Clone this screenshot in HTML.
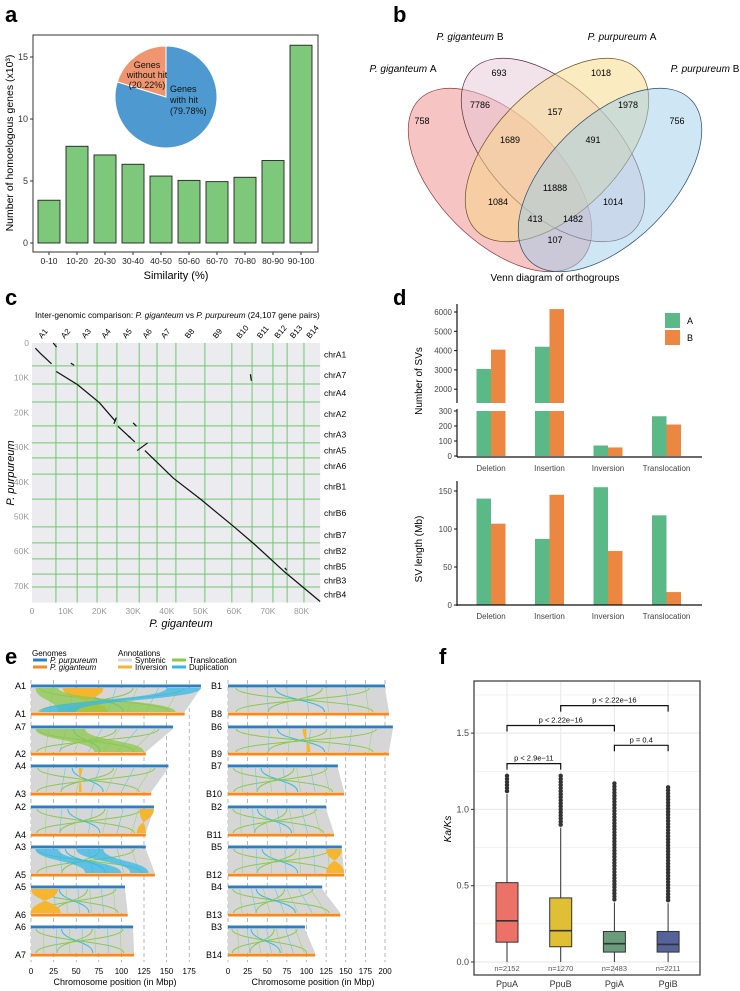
<!DOCTYPE html>
<html><head><meta charset="utf-8"><style>
body{margin:0;background:#fff}
svg{display:block;font-family:"Liberation Sans",Arial,sans-serif}
</style></head><body>
<svg id="fig" width="740" height="991" viewBox="0 0 740 991" xmlns="http://www.w3.org/2000/svg"></svg>
<script>
const NS='http://www.w3.org/2000/svg';
const svg=document.getElementById('fig');
function mk(tag,at,parent){const e=document.createElementNS(NS,tag);for(const k in at)e.setAttribute(k,at[k]);(parent||svg).appendChild(e);return e;}
function tx(x,y,s,at,parent){const e=mk('text',Object.assign({x:x,y:y},at||{}),parent);e.textContent=s;return e;}

// ---------- DATA ----------
const simCats=['0-10','10-20','20-30','30-40','40-50','50-60','60-70','70-80','80-90','90-100'];
const simVals=[3.45,7.8,7.1,6.35,5.4,5.05,4.95,5.3,6.65,15.95];
const simTicks=[0,5,10,15];
const pieVals=[79.78,20.22];

const vennNums=[['758',422,124],['693',499,76],['1018',601,76],['756',677,124],['7786',480,108],['157',555,115],['1978',628,108],['1689',510,143],['491',593,143],['11888',555,191],['1084',498,205],['1014',613,205],['413',535,222],['1482',573,222],['107',555,243]];

const dotChrX=['A1','A2','A3','A4','A5','A6','A7','B8','B9','B10','B11','B12','B13','B14'];
const dotBoundX=[0,7.1,13.4,19.3,25.2,31.8,37.1,42.7,51.3,59.3,65.3,71.5,75.7,80.7,85.5];
const dotChrY=['chrA1','chrA7','chrA4','chrA2','chrA3','chrA5','chrA6','chrB1','chrB6','chrB7','chrB2','chrB5','chrB3','chrB4'];
const dotBoundY=[0,6.6,11.8,17,23.9,28.8,33.1,37.8,45,53,57.6,62.2,66.6,70.3,74.8];
const dotSegs=[
 [[1,1.5],[2.5,3],[5.8,6]],
 [[7.2,8.2],[13.5,12],[20,17.2],[24.8,22.6]],
 [[25.5,24],[30.5,28.5]],
 [[33.5,31],[42,39],[50,45],[60,53],[66,58],[75,66],[85.5,74.5]],
 [[24.3,23.3],[25,21.5]],[[31.2,31],[34.3,28.8]],[[6.3,0],[7.3,1.2]],[[30,23],[31,24]],[[11.5,5.8],[12.5,6.4]],[[64.8,9],[65.1,10.9]],[[75,64.8],[75.6,65.5]],[[28.5,26.8],[29.3,27.3]]];
const dotTicksX=[0,10,20,30,40,50,60,70,80];
const dotTicksY=[0,10,20,30,40,50,60,70];

const svCats=['Deletion','Insertion','Inversion','Translocation'];
const svCountA=[3050,4200,70,265];
const svCountB=[4050,6150,57,210];
const svLenA=[140,87,155,118];
const svLenB=[107,145,71,17];
const svTopTicks=[2000,3000,4000,5000,6000];
const svBotTicks=[0,100,200,300];
const svLenTicks=[0,50,100,150];

const kaCats=['PpuA','PpuB','PgiA','PgiB'];
const kaN=['n=2152','n=1270','n=2483','n=2211'];
const kaQ1=[0.13,0.10,0.065,0.065];
const kaMed=[0.27,0.205,0.12,0.115];
const kaQ3=[0.52,0.42,0.20,0.20];
const kaWhi=[1.10,0.88,0.39,0.385];
const kaMax=[1.23,1.23,1.19,1.15];
const kaTicks=[0,0.5,1.0,1.5];
const kaPairs=[[0,1,1.30,'p < 2.9e\u221211'],[0,2,1.55,'p < 2.22e\u221216'],[2,3,1.42,'p = 0.4'],[1,3,1.68,'p < 2.22e\u221216']];

const synLeftTop=['A1','A7','A4','A2','A3','A5','A6'];
const synLeftBot=['A1','A2','A3','A4','A5','A6','A7'];
const synLeftTopLen=[188,157,152,136,127,104,113];
const synLeftBotLen=[170,127,133,127,137,107,114];
const synRightTop=['B1','B6','B7','B2','B5','B4','B3'];
const synRightBot=['B8','B9','B10','B11','B12','B13','B14'];
const synRightTopLen=[200,210,140,125,145,120,98];
const synRightBotLen=[205,205,148,135,148,143,111];
const synTicksL=[0,25,50,75,100,125,150,175];
const synTicksR=[0,25,50,75,100,125,150,175,200];

// ---------- PANEL A ----------
const gA=mk('g',{});


let t=tx(5,22,'a',{'font-size':22,'font-weight':'bold'},gA);


const aY=v=>243-v*12.4, aX=i=>49+i*28;
let fr=mk('rect',{x:33,y:35,width:285,height:217,fill:'none',stroke:'#333','stroke-width':1},gA);


simTicks.forEach(v=>{
 mk('line',{x1:30,x2:33,y1:aY(v),y2:aY(v),stroke:'#333'},gA);
 const l=tx(28,aY(v)+3,String(v),{'font-size':9,'text-anchor':'end',fill:'#333'},gA);
 
 
});
simVals.forEach((v,i)=>{
 const b=mk('rect',{x:aX(i)-11,y:aY(v),width:22,height:aY(0)-aY(v),fill:'#7dc87a',stroke:'#222','stroke-width':0.9},gA);
 
 
 mk('line',{x1:aX(i),x2:aX(i),y1:252,y2:255,stroke:'#333'},gA);
 const l=tx(aX(i),264,simCats[i],{'font-size':8.5,'text-anchor':'middle',fill:'#222'},gA);
 
 
});
t=tx(176,279,'Similarity (%)',{'font-size':11,'text-anchor':'middle'},gA);


t=tx(0,0,'Number of homoelogous genes (x10\u00B3)',{'font-size':10.5,'text-anchor':'middle',transform:'translate(13,143) rotate(-90)'},gA);


(function(){
 const cx=166,cy=97,r=51;const tot=pieVals[0]+pieVals[1];
 const cols=['#4e9ad0','#ef9670'];let a0=0;
 pieVals.forEach((v,i)=>{
  const a1=a0+v/tot*2*Math.PI;
  const x0=cx+r*Math.sin(a0),y0=cy-r*Math.cos(a0),x1=cx+r*Math.sin(a1),y1=cy-r*Math.cos(a1);
  const p=mk('path',{d:`M${cx},${cy}L${x0},${y0}A${r},${r} 0 ${a1-a0>Math.PI?1:0} 1 ${x1},${y1}Z`,fill:cols[i],stroke:'#fff','stroke-width':1},gA);
  
  
  a0=a1;
 });
 const L=[[170,92,'Genes'],[170,103,'with hit'],[170,114,'(79.78%)'],[147,68,'Genes'],[147,78,'without hit'],[147,88,'(20.22%)']];
 L.forEach((q,i)=>{const e=tx(q[0],q[1],q[2],{'font-size':9,'text-anchor':i<3?'start':'middle',fill:'#111'},gA);
  
  });
})();

// ---------- PANEL B ----------
const gB=mk('g',{});


t=tx(393,22,'b',{'font-size':22,'font-weight':'bold'},gB);


const ells=[[500,180,114,62,45,'#f08a8a','#8a3a3a','venn-giganteum-a'],[553,150,114,62,45,'#e6c6d6','#5a2a3a','venn-giganteum-b'],[557,150,114,62,-45,'#f8d884','#6a5020','venn-purpureum-a'],[610,180,114,62,-45,'#a0cdea','#2a4a6a','venn-purpureum-b']];
ells.forEach(e=>{const el=mk('ellipse',{cx:e[0],cy:e[1],rx:e[2],ry:e[3],transform:`rotate(${e[4]} ${e[0]} ${e[1]})`,fill:e[5],'fill-opacity':0.5,stroke:e[6],'stroke-width':0.7},gB);
 
 });
vennNums.forEach(n=>{const e=tx(n[1],n[2],n[0],{'font-size':9,'text-anchor':'middle'},gB);
 
 });
[[403,72,'P. giganteum ','A'],[470,40,'P. giganteum ','B'],[622,40,'P. purpureum ','A'],[705,72,'P. purpureum ','B']].forEach(q=>{
 const e=tx(q[0],q[1],'',{'font-size':10,'text-anchor':'middle'},gB);
 const s1=document.createElementNS(NS,'tspan');s1.setAttribute('font-style','italic');s1.textContent=q[2];e.appendChild(s1);
 const s2=document.createElementNS(NS,'tspan');s2.textContent=q[3];e.appendChild(s2);
 
 });
t=tx(555,281,'Venn diagram of orthogroups',{'font-size':10,'text-anchor':'middle'},gB);



// ---------- PANEL C ----------
const gC=mk('g',{});


t=tx(5,305,'c',{'font-size':22,'font-weight':'bold'},gC);


t=tx(35,318,'Inter-genomic comparison: ',{'font-size':8.3},gC);


const ts=[['P. giganteum',1],[' vs ',0],['P. purpureum',1],[' (24,107 gene pairs)',0]];
ts.forEach(q=>{const s=document.createElementNS(NS,'tspan');if(q[1])s.setAttribute('font-style','italic');s.textContent=q[0];t.appendChild(s);});
const xK=v=>32+v*3.37, yK=v=>343+v*3.47;
fr=mk('rect',{x:32,y:343,width:xK(85.5)-32,height:yK(74.8)-343,fill:'#ebebf0'},gC);


dotBoundX.slice(1,-1).forEach(v=>mk('line',{x1:xK(v),x2:xK(v),y1:343,y2:yK(74.8),stroke:'#6cc86c','stroke-width':1},gC));
dotBoundY.slice(1,-1).forEach(v=>mk('line',{x1:32,x2:xK(85.5),y1:yK(v),y2:yK(v),stroke:'#6cc86c','stroke-width':1},gC));
dotChrX.forEach((c,i)=>{const m=(dotBoundX[i]+dotBoundX[i+1])/2;
 const e=tx(0,0,c,{'font-size':8,transform:`translate(${xK(m)-2},339) rotate(-50)`},gC);
 
 });
dotChrY.forEach((c,i)=>{const m=(dotBoundY[i]+dotBoundY[i+1])/2;
 const e=tx(324,yK(m)+3,c,{'font-size':8.5},gC);
 
 });
dotTicksX.forEach(v=>{const e=tx(xK(v),614,v?v+'K':'0',{'font-size':8.5,'text-anchor':'middle',fill:'#999'},gC);
 
 });
dotTicksY.forEach(v=>{const e=tx(29,yK(v)+3,v?v+'K':'0',{'font-size':8.5,'text-anchor':'end',fill:'#999'},gC);
 
 });
dotSegs.forEach(s=>{const p=mk('polyline',{points:s.map(q=>xK(q[0])+','+yK(q[1])).join(' '),fill:'none',stroke:'#111','stroke-width':1.2},gC);
 
 });
t=tx(181,627,'P. giganteum',{'font-size':11,'font-style':'italic','text-anchor':'middle'},gC);


t=tx(0,0,'P. purpureum',{'font-size':11,'font-style':'italic','text-anchor':'middle',transform:'translate(14,473) rotate(-90)'},gC);



// ---------- PANEL D ----------
const gD=mk('g',{});


t=tx(393,305,'d',{'font-size':22,'font-weight':'bold'},gD);


const yTop=v=>312+(6000-v)/1000*19.3, yBot=v=>456-v*0.15, yLen=v=>605-v*0.76;
const dX=i=>491+i*58.5;
mk('line',{x1:457,x2:457,y1:304,y2:403,stroke:'#111','stroke-width':1.2},gD);
mk('line',{x1:457,x2:457,y1:409,y2:457,stroke:'#111','stroke-width':1.2},gD);
mk('line',{x1:457,x2:702,y1:457,y2:457,stroke:'#111','stroke-width':1.2},gD);
mk('line',{x1:457,x2:457,y1:481,y2:606,stroke:'#111','stroke-width':1.2},gD);
svTopTicks.forEach(v=>{mk('line',{x1:454,x2:457,y1:yTop(v),y2:yTop(v),stroke:'#111'},gD);
 const e=tx(452,yTop(v)+3,String(v),{'font-size':8,'text-anchor':'end',fill:'#444'},gD);
 
 });
svBotTicks.forEach(v=>{mk('line',{x1:454,x2:457,y1:yBot(v),y2:yBot(v),stroke:'#111'},gD);
 const e=tx(452,yBot(v)+3,String(v),{'font-size':8,'text-anchor':'end',fill:'#444'},gD);
 
 });
svLenTicks.forEach(v=>{mk('line',{x1:454,x2:457,y1:yLen(v),y2:yLen(v),stroke:'#111'},gD);
 const e=tx(452,yLen(v)+3,String(v),{'font-size':8,'text-anchor':'end',fill:'#444'},gD);
 
 });
function svBar(x,v,col,nm){
 if(v>300){
  const b1=mk('rect',{x:x,y:yTop(v),width:14.5,height:403-yTop(v),fill:col},gD);
  
  
  const b2=mk('rect',{x:x,y:411,width:14.5,height:45,fill:col},gD);
  
  
 } else {
  const b=mk('rect',{x:x,y:yBot(v),width:14.5,height:456-yBot(v),fill:col},gD);
  
  
 }
}
svCats.forEach((c,i)=>{
 svBar(dX(i)-14.5,svCountA[i],'#5bb987','sv-count-a-'+c.toLowerCase());
 svBar(dX(i),svCountB[i],'#eb8740','sv-count-b-'+c.toLowerCase());
 const e=tx(dX(i),471,c,{'font-size':8,'text-anchor':'middle',fill:'#444'},gD);
 
 
 const a=mk('rect',{x:dX(i)-14.5,y:yLen(svLenA[i]),width:14.5,height:605-yLen(svLenA[i]),fill:'#5bb987'},gD);
 
 
 const b=mk('rect',{x:dX(i),y:yLen(svLenB[i]),width:14.5,height:605-yLen(svLenB[i]),fill:'#eb8740'},gD);
 
 
});
[['A','#5bb987',313],['B','#eb8740',330]].forEach(q=>{
 const r=mk('rect',{x:665,y:q[2],width:15,height:15,fill:q[1]},gD);
 
 
 const e=tx(687,q[2]+11,q[0],{'font-size':9},gD);
 
 });
t=tx(0,0,'Number of SVs',{'font-size':10,'text-anchor':'middle',transform:'translate(422,381) rotate(-90)'},gD);


t=tx(0,0,'SV length (Mb)',{'font-size':10,'text-anchor':'middle',transform:'translate(422,549) rotate(-90)'},gD);


mk('line',{x1:457,x2:702,y1:605,y2:605,stroke:'#111','stroke-width':1.2},gD);
svCats.forEach((c,i)=>{const e=tx(dX(i),619,c,{'font-size':8,'text-anchor':'middle',fill:'#444'},gD);
 
 });

// ---------- PANEL E ----------
const gE=mk('g',{});


t=tx(5,664,'e',{'font-size':22,'font-weight':'bold'},gE);


const rowTop=[686,727,766,807,847,887,927], rowBot=[714,754,794,835,875,915,955];
const xL=v=>31+v*0.904, xR=v=>228+v*0.785;
synTicksL.forEach(v=>{mk('line',{x1:xL(v),x2:xL(v),y1:680,y2:962,stroke:'#999','stroke-dasharray':'4,3','stroke-width':0.7},gE);
 const e=tx(xL(v),974,String(v),{'font-size':8,'text-anchor':'middle'},gE);
 
 });
synTicksR.forEach(v=>{mk('line',{x1:xR(v),x2:xR(v),y1:680,y2:962,stroke:'#999','stroke-dasharray':'4,3','stroke-width':0.7},gE);
 const e=tx(xR(v),974,String(v),{'font-size':8,'text-anchor':'middle'},gE);
 
 });
function synRows(xf,topN,botN,topL,botL,labX){
 topN.forEach((n,i)=>{
  const yt=rowTop[i]+2,yb=rowBot[i]-2;
  const band=mk('path',{d:`M${xf(0)},${yt}L${xf(topL[i])},${yt}L${xf(botL[i])},${yb}L${xf(0)},${yb}Z`,fill:'#d6d6d6'},gE);
  
  
  [[0.05,0.9,'#8cc84b'],[0.9,0.05,'#8cc84b'],[0.3,0.6,'#35b8e8'],[0.6,0.25,'#8cc84b']].forEach(r=>{
   const x1=xf(topL[i]*r[0]),x2=xf(botL[i]*r[1]),ym=(yt+yb)/2;
   mk('path',{d:`M${x1},${yt}C${x1},${ym} ${x2},${ym} ${x2},${yb}`,fill:'none',stroke:r[2],'stroke-width':1},gE);
  });
  for(let k=1;k<8;k++){const f=k/8;mk('line',{x1:xf(topL[i]*f),y1:yt,x2:xf(botL[i]*f),y2:yb,stroke:k%2?'#9fd27a':'#6cc8e0','stroke-width':0.6},gE);}
  const tl=mk('line',{x1:xf(0),x2:xf(topL[i]),y1:rowTop[i],y2:rowTop[i],stroke:'#2f7fc0','stroke-width':3},gE);
  
  
  const bl=mk('line',{x1:xf(0),x2:xf(botL[i]),y1:rowBot[i],y2:rowBot[i],stroke:'#f6891f','stroke-width':3},gE);
  
  
  let e=tx(labX,rowTop[i]+3,n,{'font-size':9,'text-anchor':'end'},gE);
  
  
  e=tx(labX,rowBot[i]+3,botN[i],{'font-size':9,'text-anchor':'end'},gE);
  
  
 });
}
synRows(xL,synLeftTop,synLeftBot,synLeftTopLen,synLeftBotLen,26);
synRows(xR,synRightTop,synRightBot,synRightTopLen,synRightBotLen,222);
const invs=[[0,0,35,80,45,85],[0,3,120,136,117,127],[0,5,0,30,0,33],[1,4,125,145,125,148],[1,1,95,100,100,105],[0,2,53,56,53,56]];
invs.forEach(v=>{const xf=v[0]?xR:xL;const yt=rowTop[v[1]]+2,yb=rowBot[v[1]]-2,ym=(yt+yb)/2;
 const p=mk('path',{d:`M${xf(v[2])},${yt}L${xf(v[3])},${yt}C${xf(v[3])},${ym} ${xf(v[4])},${ym} ${xf(v[4])},${yb}L${xf(v[5])},${yb}C${xf(v[5])},${ym} ${xf(v[2])},${ym} ${xf(v[2])},${yt}Z`,fill:'#f6b52e'},gE);
 
 });
[[0,0,5,30,30,160,'#8cc84b'],[0,0,150,188,10,50,'#35b8e8'],[0,4,5,30,60,100,'#35b8e8'],[0,4,50,80,110,130,'#35b8e8'],[0,1,5,60,70,125,'#8cc84b']].forEach(v=>{
 const xf=v[0]?xR:xL;const yt=rowTop[v[1]]+2,yb=rowBot[v[1]]-2,ym=(yt+yb)/2;
 const p=mk('path',{d:`M${xf(v[2])},${yt}L${xf(v[3])},${yt}C${xf(v[3])},${ym} ${xf(v[5])},${ym} ${xf(v[5])},${yb}L${xf(v[4])},${yb}C${xf(v[4])},${ym} ${xf(v[2])},${ym} ${xf(v[2])},${yt}Z`,fill:v[6],'fill-opacity':0.75},gE);
 
 });
[[115,'Chromosome position (in Mbp)'],[313,'Chromosome position (in Mbp)']].forEach(q=>{
 const e=tx(q[0],985,q[1],{'font-size':9,'text-anchor':'middle'},gE);
 
 });
t=tx(32,656,'Genomes',{'font-size':8},gE);


t=tx(118,656,'Annotations',{'font-size':8},gE);


[[33,660,'#2f7fc0','P. purpureum',1],[33,667,'#f6891f','P. giganteum',1],[118,660,'#d9d9d9','Syntenic',0],[118,667,'#f6b52e','Inversion',0],[172,660,'#8cc84b','Translocation',0],[172,667,'#35b8e8','Duplication',0]].forEach(q=>{
 const s=mk('rect',{x:q[0],y:q[1]-1.5,width:14,height:3,fill:q[2]},gE);
 
 
 const e=tx(q[0]+17,q[1]+3,q[3],{'font-size':8,'font-style':q[4]?'italic':'normal'},gE);
 
 });

// ---------- PANEL F ----------
const gF=mk('g',{});


t=tx(439,664,'f',{'font-size':22,'font-weight':'bold'},gF);


const fY=v=>962-v*152.6, fX=i=>507+i*53.7;
mk('rect',{x:474,y:681,width:226,height:294,fill:'#fff'},gF);
for(let v=-0.0;v<=1.9;v+=0.25){mk('line',{x1:474,x2:700,y1:fY(v),y2:fY(v),stroke:'#ebebeb','stroke-width':v*4%2===0?1.2:0.6},gF);}
kaCats.forEach((c,i)=>mk('line',{x1:fX(i),x2:fX(i),y1:681,y2:975,stroke:'#ebebeb','stroke-width':1.2},gF));
fr=mk('rect',{x:474,y:681,width:226,height:294,fill:'none',stroke:'#333','stroke-width':1.2},gF);


kaTicks.forEach(v=>{mk('line',{x1:471,x2:474,y1:fY(v),y2:fY(v),stroke:'#333'},gF);
 const e=tx(469,fY(v)+3,v.toFixed(1),{'font-size':9,'text-anchor':'end',fill:'#444'},gF);
 
 });
const kaCol=['#ec7166','#dfc035','#6a9c7c','#56639a'];
kaCats.forEach((c,i)=>{
 const x=fX(i);
 mk('line',{x1:x,x2:x,y1:fY(0),y2:fY(kaWhi[i]),stroke:'#333','stroke-width':1},gF);
 for(let v=kaWhi[i]+0.02;v<=kaMax[i];v+=0.02){mk('circle',{cx:x,cy:fY(v),r:2.2,fill:'#333'},gF);}
 const b=mk('rect',{x:x-11,y:fY(kaQ3[i]),width:22,height:fY(kaQ1[i])-fY(kaQ3[i]),fill:kaCol[i],stroke:'#333','stroke-width':1},gF);
 
 
 mk('line',{x1:x-11,x2:x+11,y1:fY(kaMed[i]),y2:fY(kaMed[i]),stroke:'#333','stroke-width':1.6},gF);
 let e=tx(x,971,kaN[i],{'font-size':7.5,'text-anchor':'middle',fill:'#555'},gF);
 
 
 e=tx(x,987,c,{'font-size':9,'text-anchor':'middle',fill:'#333'},gF);
 
 
});
kaPairs.forEach(p=>{const y=fY(p[2]),x1=fX(p[0]),x2=fX(p[1]);
 const br=mk('path',{d:`M${x1},${y+6}L${x1},${y}L${x2},${y}L${x2},${y+6}`,fill:'none',stroke:'#111','stroke-width':1.2},gF);
 
 
 const e=tx((x1+x2)/2,y-3,p[3],{'font-size':7.5,'text-anchor':'middle'},gF);
 
 });
t=tx(0,0,'Ka/Ks',{'font-size':10,'font-style':'italic','text-anchor':'middle',transform:'translate(451,829) rotate(-90)'},gF);


</script>
</body></html>
